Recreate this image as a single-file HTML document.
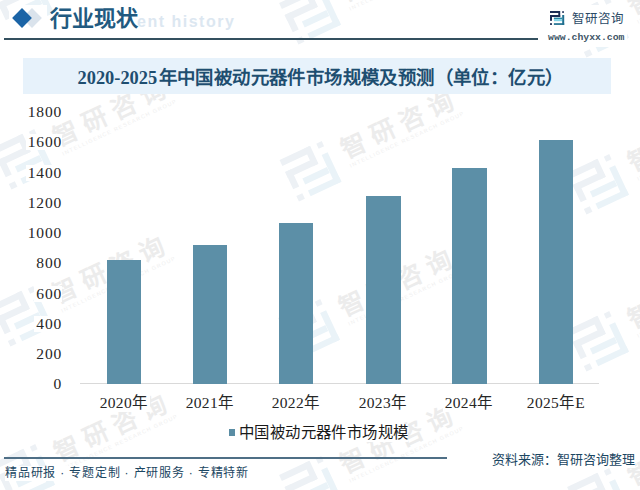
<!DOCTYPE html>
<html lang="zh-CN">
<head>
<meta charset="utf-8">
<style>
*{margin:0;padding:0;box-sizing:border-box;}
html,body{width:640px;height:490px;overflow:hidden;background:#fff;}
body{position:relative;font-family:"Liberation Sans",sans-serif;}
.abs{position:absolute;}
.serif{font-family:"Liberation Serif",serif;}
#diabg{left:9px;top:5px;width:38px;height:27px;background:#fff;}
#dia2{left:24.7px;top:11px;width:14px;height:14px;background:#dae3ec;transform:rotate(45deg);}
#dia1{left:14.7px;top:11px;width:14px;height:14px;background:#1b64a6;transform:rotate(45deg);}
#title{left:49.5px;top:4.5px;font-size:22px;line-height:28px;color:#215a80;font-weight:bold;white-space:nowrap;}
#ghost{left:137px;top:12.5px;font-size:16px;line-height:18px;color:#dce7f1;font-weight:bold;white-space:nowrap;letter-spacing:1.5px;}
#hline{left:4px;top:38px;width:534px;height:1.5px;background:#34505f;}
#logo{left:550px;top:11px;}
#brandbg{left:545px;top:5px;width:82px;height:42px;background:#fff;}
#brand{left:572px;top:10px;font-size:12.5px;line-height:18px;color:#2b4a66;white-space:nowrap;letter-spacing:0px;}
#url{left:548px;top:31.7px;font-size:9.8px;line-height:12px;color:#3d5566;font-weight:bold;font-family:"Liberation Mono",monospace;white-space:nowrap;}
#band{left:23px;top:58px;width:588px;height:36px;background:#e7f2fb;}
#ctitle{left:77.5px;top:59.9px;height:36px;line-height:36px;font-size:18.4px;font-weight:bold;color:#1e4e70;white-space:nowrap;}
.yl{position:absolute;right:578px;font-size:15.5px;line-height:16px;color:#262626;text-align:right;letter-spacing:0.8px;background:#fff;padding:0 0 0 2px;}
.bar{position:absolute;background:#5c8fa7;}
#axis{left:80px;top:383px;width:519px;height:1px;background:#d9d9d9;}
.xl{position:absolute;top:394.5px;width:86px;text-align:center;font-size:15.5px;letter-spacing:0.3px;line-height:16px;color:#262626;white-space:nowrap;}
.xl span{background:#fff;padding:1px 2px;}
#lgm{left:228.5px;top:429px;width:6.5px;height:6.5px;background:#5a8da4;}
#lgt{left:239px;top:424px;font-size:15.4px;letter-spacing:0.4px;line-height:18px;color:#1a1a1a;background:#fff;white-space:nowrap;}
#fline{left:4px;top:457px;width:443px;height:1.6px;background:#4f6f86;}
#fl{left:5px;top:466px;font-size:12px;line-height:15px;color:#1b4662;font-weight:500;background:#fff;white-space:nowrap;letter-spacing:0.8px;}
#fr{left:492px;top:452px;font-size:13px;line-height:16px;color:#1b4662;font-weight:500;background:#fff;white-space:nowrap;}
</style>
</head>
<body>
<svg class="abs" id="wm" style="left:0;top:0" width="640" height="490" viewBox="0 0 640 490">
<g transform="translate(23,2) rotate(-25)">
  <g transform="translate(-23.4,-23) scale(3.3)">
    <g fill="#edf1f5">
      <rect x="0" y="0" width="10" height="2"/>
      <rect x="8.3" y="0" width="1.9" height="6"/>
      <rect x="0" y="4" width="10" height="2"/>
      <rect x="0" y="4" width="2" height="5.8"/>
      <rect x="0" y="12" width="2" height="1.9"/>
      <rect x="12.2" y="0.2" width="1.8" height="1.7"/>
    </g>
    <g fill="#eaf3f8">
      <rect x="12.2" y="4" width="2" height="9.9"/>
      <rect x="3.9" y="12" width="10.3" height="1.9"/>
      <rect x="3.9" y="8" width="8.2" height="2"/>
    </g>
  </g>
  <text x="37" y="4" font-size="25" font-weight="bold" letter-spacing="7" fill="#ececec" font-family="Liberation Sans, sans-serif">智研咨询</text>
  <text x="38" y="14" font-size="5.5" letter-spacing="1.2" fill="#efefef" font-family="Liberation Sans, sans-serif">INTELLIGENCE RESEARCH GROUP</text>
</g>
<g transform="translate(23,159) rotate(-25)">
  <g transform="translate(-23.4,-23) scale(3.3)">
    <g fill="#edf1f5">
      <rect x="0" y="0" width="10" height="2"/>
      <rect x="8.3" y="0" width="1.9" height="6"/>
      <rect x="0" y="4" width="10" height="2"/>
      <rect x="0" y="4" width="2" height="5.8"/>
      <rect x="0" y="12" width="2" height="1.9"/>
      <rect x="12.2" y="0.2" width="1.8" height="1.7"/>
    </g>
    <g fill="#eaf3f8">
      <rect x="12.2" y="4" width="2" height="9.9"/>
      <rect x="3.9" y="12" width="10.3" height="1.9"/>
      <rect x="3.9" y="8" width="8.2" height="2"/>
    </g>
  </g>
  <text x="37" y="4" font-size="25" font-weight="bold" letter-spacing="7" fill="#ececec" font-family="Liberation Sans, sans-serif">智研咨询</text>
  <text x="38" y="14" font-size="5.5" letter-spacing="1.2" fill="#efefef" font-family="Liberation Sans, sans-serif">INTELLIGENCE RESEARCH GROUP</text>
</g>
<g transform="translate(22,316) rotate(-25)">
  <g transform="translate(-23.4,-23) scale(3.3)">
    <g fill="#edf1f5">
      <rect x="0" y="0" width="10" height="2"/>
      <rect x="8.3" y="0" width="1.9" height="6"/>
      <rect x="0" y="4" width="10" height="2"/>
      <rect x="0" y="4" width="2" height="5.8"/>
      <rect x="0" y="12" width="2" height="1.9"/>
      <rect x="12.2" y="0.2" width="1.8" height="1.7"/>
    </g>
    <g fill="#eaf3f8">
      <rect x="12.2" y="4" width="2" height="9.9"/>
      <rect x="3.9" y="12" width="10.3" height="1.9"/>
      <rect x="3.9" y="8" width="8.2" height="2"/>
    </g>
  </g>
  <text x="37" y="4" font-size="25" font-weight="bold" letter-spacing="7" fill="#ececec" font-family="Liberation Sans, sans-serif">智研咨询</text>
  <text x="38" y="14" font-size="5.5" letter-spacing="1.2" fill="#efefef" font-family="Liberation Sans, sans-serif">INTELLIGENCE RESEARCH GROUP</text>
</g>
<g transform="translate(24,474) rotate(-25)">
  <g transform="translate(-23.4,-23) scale(3.3)">
    <g fill="#edf1f5">
      <rect x="0" y="0" width="10" height="2"/>
      <rect x="8.3" y="0" width="1.9" height="6"/>
      <rect x="0" y="4" width="10" height="2"/>
      <rect x="0" y="4" width="2" height="5.8"/>
      <rect x="0" y="12" width="2" height="1.9"/>
      <rect x="12.2" y="0.2" width="1.8" height="1.7"/>
    </g>
    <g fill="#eaf3f8">
      <rect x="12.2" y="4" width="2" height="9.9"/>
      <rect x="3.9" y="12" width="10.3" height="1.9"/>
      <rect x="3.9" y="8" width="8.2" height="2"/>
    </g>
  </g>
  <text x="37" y="4" font-size="25" font-weight="bold" letter-spacing="7" fill="#ececec" font-family="Liberation Sans, sans-serif">智研咨询</text>
  <text x="38" y="14" font-size="5.5" letter-spacing="1.2" fill="#efefef" font-family="Liberation Sans, sans-serif">INTELLIGENCE RESEARCH GROUP</text>
</g>
<g transform="translate(310,14) rotate(-25)">
  <g transform="translate(-23.4,-23) scale(3.3)">
    <g fill="#edf1f5">
      <rect x="0" y="0" width="10" height="2"/>
      <rect x="8.3" y="0" width="1.9" height="6"/>
      <rect x="0" y="4" width="10" height="2"/>
      <rect x="0" y="4" width="2" height="5.8"/>
      <rect x="0" y="12" width="2" height="1.9"/>
      <rect x="12.2" y="0.2" width="1.8" height="1.7"/>
    </g>
    <g fill="#eaf3f8">
      <rect x="12.2" y="4" width="2" height="9.9"/>
      <rect x="3.9" y="12" width="10.3" height="1.9"/>
      <rect x="3.9" y="8" width="8.2" height="2"/>
    </g>
  </g>
  <text x="37" y="4" font-size="25" font-weight="bold" letter-spacing="7" fill="#ececec" font-family="Liberation Sans, sans-serif">智研咨询</text>
  <text x="38" y="14" font-size="5.5" letter-spacing="1.2" fill="#efefef" font-family="Liberation Sans, sans-serif">INTELLIGENCE RESEARCH GROUP</text>
</g>
<g transform="translate(310.5,171) rotate(-25)">
  <g transform="translate(-23.4,-23) scale(3.3)">
    <g fill="#edf1f5">
      <rect x="0" y="0" width="10" height="2"/>
      <rect x="8.3" y="0" width="1.9" height="6"/>
      <rect x="0" y="4" width="10" height="2"/>
      <rect x="0" y="4" width="2" height="5.8"/>
      <rect x="0" y="12" width="2" height="1.9"/>
      <rect x="12.2" y="0.2" width="1.8" height="1.7"/>
    </g>
    <g fill="#eaf3f8">
      <rect x="12.2" y="4" width="2" height="9.9"/>
      <rect x="3.9" y="12" width="10.3" height="1.9"/>
      <rect x="3.9" y="8" width="8.2" height="2"/>
    </g>
  </g>
  <text x="37" y="4" font-size="25" font-weight="bold" letter-spacing="7" fill="#ececec" font-family="Liberation Sans, sans-serif">智研咨询</text>
  <text x="38" y="14" font-size="5.5" letter-spacing="1.2" fill="#efefef" font-family="Liberation Sans, sans-serif">INTELLIGENCE RESEARCH GROUP</text>
</g>
<g transform="translate(309,329) rotate(-25)">
  <g transform="translate(-23.4,-23) scale(3.3)">
    <g fill="#edf1f5">
      <rect x="0" y="0" width="10" height="2"/>
      <rect x="8.3" y="0" width="1.9" height="6"/>
      <rect x="0" y="4" width="10" height="2"/>
      <rect x="0" y="4" width="2" height="5.8"/>
      <rect x="0" y="12" width="2" height="1.9"/>
      <rect x="12.2" y="0.2" width="1.8" height="1.7"/>
    </g>
    <g fill="#eaf3f8">
      <rect x="12.2" y="4" width="2" height="9.9"/>
      <rect x="3.9" y="12" width="10.3" height="1.9"/>
      <rect x="3.9" y="8" width="8.2" height="2"/>
    </g>
  </g>
  <text x="37" y="4" font-size="25" font-weight="bold" letter-spacing="7" fill="#ececec" font-family="Liberation Sans, sans-serif">智研咨询</text>
  <text x="38" y="14" font-size="5.5" letter-spacing="1.2" fill="#efefef" font-family="Liberation Sans, sans-serif">INTELLIGENCE RESEARCH GROUP</text>
</g>
<g transform="translate(310,486) rotate(-25)">
  <g transform="translate(-23.4,-23) scale(3.3)">
    <g fill="#edf1f5">
      <rect x="0" y="0" width="10" height="2"/>
      <rect x="8.3" y="0" width="1.9" height="6"/>
      <rect x="0" y="4" width="10" height="2"/>
      <rect x="0" y="4" width="2" height="5.8"/>
      <rect x="0" y="12" width="2" height="1.9"/>
      <rect x="12.2" y="0.2" width="1.8" height="1.7"/>
    </g>
    <g fill="#eaf3f8">
      <rect x="12.2" y="4" width="2" height="9.9"/>
      <rect x="3.9" y="12" width="10.3" height="1.9"/>
      <rect x="3.9" y="8" width="8.2" height="2"/>
    </g>
  </g>
  <text x="37" y="4" font-size="25" font-weight="bold" letter-spacing="7" fill="#ececec" font-family="Liberation Sans, sans-serif">智研咨询</text>
  <text x="38" y="14" font-size="5.5" letter-spacing="1.2" fill="#efefef" font-family="Liberation Sans, sans-serif">INTELLIGENCE RESEARCH GROUP</text>
</g>
<g transform="translate(598,27) rotate(-25)">
  <g transform="translate(-23.4,-23) scale(3.3)">
    <g fill="#edf1f5">
      <rect x="0" y="0" width="10" height="2"/>
      <rect x="8.3" y="0" width="1.9" height="6"/>
      <rect x="0" y="4" width="10" height="2"/>
      <rect x="0" y="4" width="2" height="5.8"/>
      <rect x="0" y="12" width="2" height="1.9"/>
      <rect x="12.2" y="0.2" width="1.8" height="1.7"/>
    </g>
    <g fill="#eaf3f8">
      <rect x="12.2" y="4" width="2" height="9.9"/>
      <rect x="3.9" y="12" width="10.3" height="1.9"/>
      <rect x="3.9" y="8" width="8.2" height="2"/>
    </g>
  </g>
  <text x="37" y="4" font-size="25" font-weight="bold" letter-spacing="7" fill="#ececec" font-family="Liberation Sans, sans-serif">智研咨询</text>
  <text x="38" y="14" font-size="5.5" letter-spacing="1.2" fill="#efefef" font-family="Liberation Sans, sans-serif">INTELLIGENCE RESEARCH GROUP</text>
</g>
<g transform="translate(598,184) rotate(-25)">
  <g transform="translate(-23.4,-23) scale(3.3)">
    <g fill="#edf1f5">
      <rect x="0" y="0" width="10" height="2"/>
      <rect x="8.3" y="0" width="1.9" height="6"/>
      <rect x="0" y="4" width="10" height="2"/>
      <rect x="0" y="4" width="2" height="5.8"/>
      <rect x="0" y="12" width="2" height="1.9"/>
      <rect x="12.2" y="0.2" width="1.8" height="1.7"/>
    </g>
    <g fill="#eaf3f8">
      <rect x="12.2" y="4" width="2" height="9.9"/>
      <rect x="3.9" y="12" width="10.3" height="1.9"/>
      <rect x="3.9" y="8" width="8.2" height="2"/>
    </g>
  </g>
  <text x="37" y="4" font-size="25" font-weight="bold" letter-spacing="7" fill="#ececec" font-family="Liberation Sans, sans-serif">智研咨询</text>
  <text x="38" y="14" font-size="5.5" letter-spacing="1.2" fill="#efefef" font-family="Liberation Sans, sans-serif">INTELLIGENCE RESEARCH GROUP</text>
</g>
<g transform="translate(598,341) rotate(-25)">
  <g transform="translate(-23.4,-23) scale(3.3)">
    <g fill="#edf1f5">
      <rect x="0" y="0" width="10" height="2"/>
      <rect x="8.3" y="0" width="1.9" height="6"/>
      <rect x="0" y="4" width="10" height="2"/>
      <rect x="0" y="4" width="2" height="5.8"/>
      <rect x="0" y="12" width="2" height="1.9"/>
      <rect x="12.2" y="0.2" width="1.8" height="1.7"/>
    </g>
    <g fill="#eaf3f8">
      <rect x="12.2" y="4" width="2" height="9.9"/>
      <rect x="3.9" y="12" width="10.3" height="1.9"/>
      <rect x="3.9" y="8" width="8.2" height="2"/>
    </g>
  </g>
  <text x="37" y="4" font-size="25" font-weight="bold" letter-spacing="7" fill="#ececec" font-family="Liberation Sans, sans-serif">智研咨询</text>
  <text x="38" y="14" font-size="5.5" letter-spacing="1.2" fill="#efefef" font-family="Liberation Sans, sans-serif">INTELLIGENCE RESEARCH GROUP</text>
</g>
<g transform="translate(598,498) rotate(-25)">
  <g transform="translate(-23.4,-23) scale(3.3)">
    <g fill="#edf1f5">
      <rect x="0" y="0" width="10" height="2"/>
      <rect x="8.3" y="0" width="1.9" height="6"/>
      <rect x="0" y="4" width="10" height="2"/>
      <rect x="0" y="4" width="2" height="5.8"/>
      <rect x="0" y="12" width="2" height="1.9"/>
      <rect x="12.2" y="0.2" width="1.8" height="1.7"/>
    </g>
    <g fill="#eaf3f8">
      <rect x="12.2" y="4" width="2" height="9.9"/>
      <rect x="3.9" y="12" width="10.3" height="1.9"/>
      <rect x="3.9" y="8" width="8.2" height="2"/>
    </g>
  </g>
  <text x="37" y="4" font-size="25" font-weight="bold" letter-spacing="7" fill="#ececec" font-family="Liberation Sans, sans-serif">智研咨询</text>
  <text x="38" y="14" font-size="5.5" letter-spacing="1.2" fill="#efefef" font-family="Liberation Sans, sans-serif">INTELLIGENCE RESEARCH GROUP</text>
</g>
</svg>
<div class="abs" id="diabg"></div>
<div class="abs" id="dia2"></div>
<div class="abs" id="dia1"></div>
<div class="abs" id="ghost">ent history</div>
<div class="abs" id="title">行业现状</div>
<div class="abs" id="hline"></div>

<div class="abs" id="brandbg"></div>
<svg class="abs" id="logo" width="16" height="16" viewBox="0 0 16 16">
  <g fill="#1c2d55">
  <rect x="0" y="0" width="10" height="2"/>
  <rect x="8.3" y="0" width="1.9" height="6"/>
  <rect x="0" y="4" width="10.2" height="2"/>
  <rect x="0" y="4" width="2" height="5.8"/>
  <rect x="0" y="12.2" width="2" height="1.7"/>
  <rect x="12.2" y="0.2" width="1.7" height="1.7"/>
  </g>
  <g fill="#1f6f8f">
  <rect x="12.2" y="4" width="2" height="9.9"/>
  <rect x="3.9" y="12.2" width="10.3" height="1.7"/>
  <rect x="3.9" y="6.6" width="8.1" height="1.6" fill="#2a8aa8"/>
  <rect x="3.9" y="8.2" width="8.1" height="2" fill="#7fd3e6"/>
  </g>
</svg>
<div class="abs" id="brand">智研咨询</div>
<div class="abs" id="url">www.chyxx.com</div>

<div class="abs" id="band"></div>
<div class="abs serif" id="ctitle">2020-2025<span style="letter-spacing:0.4px;margin-left:1.5px">年中国被动元器件市场规模及预测（单位：亿元）</span></div>

<div class="yl serif" style="top:104.00px">1800</div>
<div class="yl serif" style="top:134.25px">1600</div>
<div class="yl serif" style="top:164.50px">1400</div>
<div class="yl serif" style="top:194.75px">1200</div>
<div class="yl serif" style="top:225.00px">1000</div>
<div class="yl serif" style="top:255.25px">800</div>
<div class="yl serif" style="top:285.50px">600</div>
<div class="yl serif" style="top:315.75px">400</div>
<div class="yl serif" style="top:346.00px">200</div>
<div class="yl serif" style="top:376.25px">0</div>

<div class="abs" id="axis"></div>
<div class="bar" style="left:107px;top:260px;width:34px;height:124px"></div>
<div class="bar" style="left:193px;top:245px;width:33.8px;height:139px"></div>
<div class="bar" style="left:279.2px;top:222.5px;width:34.1px;height:161.5px"></div>
<div class="bar" style="left:366px;top:195.6px;width:34.8px;height:188.4px"></div>
<div class="bar" style="left:452.2px;top:167.5px;width:34.7px;height:216.5px"></div>
<div class="bar" style="left:539.1px;top:140px;width:34px;height:244px"></div>

<div class="xl serif" style="left:81px"><span>2020年</span></div>
<div class="xl serif" style="left:167px"><span>2021年</span></div>
<div class="xl serif" style="left:253px"><span>2022年</span></div>
<div class="xl serif" style="left:340px"><span>2023年</span></div>
<div class="xl serif" style="left:426px"><span>2024年</span></div>
<div class="xl serif" style="left:513px"><span>2025年E</span></div>

<div class="abs" id="lgm"></div>
<div class="abs" id="lgt">中国被动元器件市场规模</div>

<div class="abs" id="fline"></div>
<div class="abs" id="fl">精品研报 · 专题定制 · 产研服务 · 专精特新</div>
<div class="abs" id="fr">资料来源：智研咨询整理</div>
</body>
</html>
